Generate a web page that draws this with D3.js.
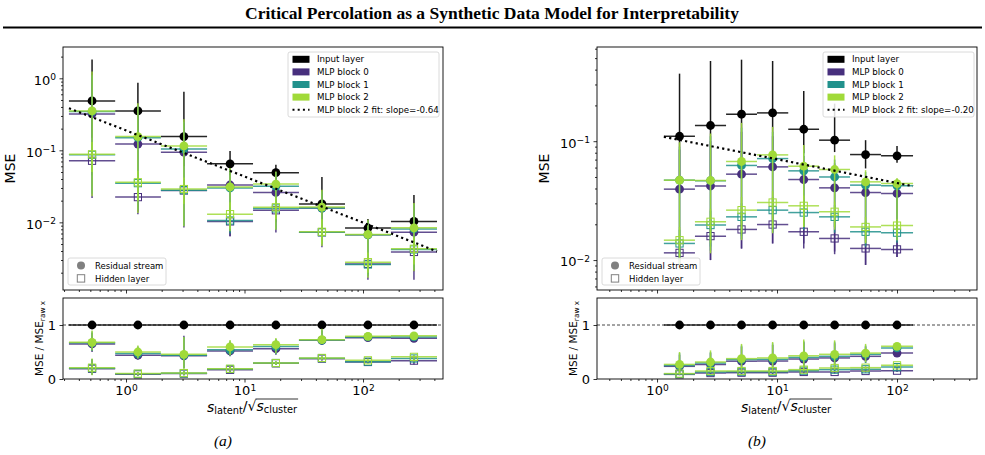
<!DOCTYPE html>
<html>
<head>
<meta charset="utf-8">
<script src="https://cdn.jsdelivr.net/npm/d3@7"></script>
<style>
  body { margin: 0; background: #fff; }
  text { font-family: "DejaVu Sans", sans-serif; }
</style>
</head>
<body>
<script>
// ---- data ----
const seriesNames = ["Input layer", "MLP block 0", "MLP block 1", "MLP block 2"];
const seriesColors = ["#000000", "#472f7d", "#21918c", "#a0da39"];

// bin edges and centres along s_latent / sqrt(s_cluster)
const edgesA = [0.33, 0.81, 1.97, 4.83, 11.8, 28.8, 70.5, 172, 421];
const centersA = [0.517, 1.26, 3.08, 7.55, 18.4, 45, 110, 269];
const edgesB = [1.14, 2.07, 3.76, 6.81, 12.4, 22.4, 40.6, 73.6, 136];
const centersB = [1.54, 2.79, 5.06, 9.19, 16.7, 30.2, 54.7, 100];

// [value, lower, upper] per bin -- panel (a), MSE
const inputA = [[0.485, 0.15, 1.83], [0.352, 0.12, 0.87], [0.155, 0.06, 0.65], [0.065, 0.045, 0.098],
                [0.049, 0.040, 0.063], [0.018, 0.008, 0.0425], [0.00835, 0.006, 0.0111], [0.0103, 0.004, 0.024]];
const resA0 = [[0.32, 0.0217, 1.0], [0.122, 0.013, 0.4], [0.094, 0.0085, 0.24], [0.033, 0.0064, 0.055],
               [0.026, 0.0072, 0.045], [0.0158, 0.0045, 0.026], [0.00675, 0.0016, 0.0105], [0.0073, 0.0016, 0.017]];
const resA1 = [[0.345, 0.025, 1.1], [0.150, 0.015, 0.42], [0.104, 0.009, 0.25], [0.030, 0.008, 0.055],
               [0.0316, 0.008, 0.05], [0.0158, 0.005, 0.027], [0.0067, 0.0018, 0.0105], [0.0081, 0.0022, 0.018]];
const resA2 = [[0.352, 0.023, 1.24], [0.155, 0.0135, 0.45], [0.115, 0.0088, 0.27], [0.031, 0.0075, 0.057],
               [0.034, 0.0079, 0.051], [0.0163, 0.0047, 0.0284], [0.0068, 0.0017, 0.0109], [0.0084, 0.0021, 0.0185]];
const hidA0 = [[0.0716, 0.045, 0.11], [0.0224, 0.014, 0.035], [0.0277, 0.018, 0.04], [0.0103, 0.0064, 0.016],
               [0.0147, 0.010, 0.020], [0.00727, 0.005, 0.0105], [0.00265, 0.0019, 0.0036], [0.00388, 0.0021, 0.0055]];
const hidA1 = [[0.0866, 0.05, 0.12], [0.035, 0.02, 0.05], [0.028, 0.018, 0.04], [0.0106, 0.007, 0.016],
               [0.0156, 0.011, 0.021], [0.0073, 0.005, 0.0105], [0.0026, 0.0019, 0.0036], [0.0042, 0.0025, 0.006]];
const hidA2 = [[0.088, 0.05, 0.13], [0.036, 0.02, 0.052], [0.029, 0.018, 0.042], [0.013, 0.008, 0.019],
               [0.0162, 0.011, 0.022], [0.0074, 0.005, 0.011], [0.0028, 0.002, 0.0038], [0.0043, 0.0026, 0.0062]];

// panel (b), MSE
const inputB = [[0.110, 0.04, 0.37], [0.1355, 0.05, 0.473], [0.1686, 0.06, 0.485], [0.173, 0.06, 0.473],
                [0.126, 0.079, 0.265], [0.102, 0.081, 0.207], [0.0772, 0.059, 0.102], [0.0753, 0.066, 0.091]];
const resB0 = [[0.0395, 0.009, 0.085], [0.042, 0.010, 0.1], [0.0528, 0.0125, 0.12], [0.0608, 0.0138, 0.11],
               [0.0476, 0.0138, 0.075], [0.0405, 0.0118, 0.065], [0.037, 0.0091, 0.05], [0.0363, 0.0106, 0.045]];
const resB1 = [[0.047, 0.009, 0.09], [0.0465, 0.012, 0.11], [0.0625, 0.015, 0.13], [0.0714, 0.017, 0.12],
               [0.0563, 0.019, 0.085], [0.050, 0.019, 0.07], [0.0427, 0.015, 0.055], [0.0421, 0.015, 0.048]];
const resB2 = [[0.047, 0.0083, 0.098], [0.0467, 0.0114, 0.116], [0.0675, 0.0147, 0.1426], [0.0767, 0.0168, 0.132],
               [0.0616, 0.019, 0.093], [0.0578, 0.019, 0.076], [0.0455, 0.0138, 0.057], [0.044, 0.0147, 0.049]];
const hidB0 = [[0.0115, 0.0085, 0.015], [0.0159, 0.010, 0.022], [0.0181, 0.0125, 0.025], [0.0199, 0.0138, 0.027],
               [0.0173, 0.0125, 0.024], [0.0152, 0.0112, 0.021], [0.01253, 0.0091, 0.016], [0.0123, 0.0106, 0.0145]];
const hidB1 = [[0.0138, 0.010, 0.018], [0.0197, 0.013, 0.026], [0.0231, 0.016, 0.03], [0.0263, 0.018, 0.034],
               [0.0251, 0.018, 0.032], [0.0231, 0.017, 0.029], [0.0173, 0.013, 0.021], [0.017, 0.014, 0.02]];
const hidB2 = [[0.0147, 0.010, 0.019], [0.021, 0.014, 0.027], [0.0263, 0.017, 0.034], [0.0305, 0.019, 0.038],
               [0.0286, 0.019, 0.035], [0.0255, 0.018, 0.031], [0.019, 0.014, 0.023], [0.0195, 0.016, 0.022]];

// ratio MSE / MSE_raw x -- panel (a)
const rresA0 = [[0.65, 0.5, 0.85], [0.44, 0.36, 0.58], [0.43, 0.2, 0.8], [0.52, 0.42, 0.68],
                [0.56, 0.45, 0.72], [0.716, 0.63, 0.9], [0.765, 0.73, 0.8], [0.753, 0.72, 0.79]];
const rresA1 = [[0.67, 0.52, 0.88], [0.47, 0.37, 0.6], [0.44, 0.2, 0.78], [0.54, 0.43, 0.7],
                [0.6, 0.46, 0.74], [0.72, 0.64, 0.91], [0.78, 0.75, 0.81], [0.78, 0.75, 0.81]];
const rresA2 = [[0.68, 0.53, 0.9], [0.5, 0.38, 0.62], [0.457, 0.19, 0.78], [0.593, 0.44, 0.72],
                [0.636, 0.47, 0.76], [0.728, 0.65, 0.93], [0.79, 0.76, 0.82], [0.8, 0.77, 0.83]];
const rhidA0 = [[0.19, 0.08, 0.36], [0.086, 0.06, 0.12], [0.1, 0.07, 0.14], [0.17, 0.13, 0.22],
                [0.29, 0.26, 0.32], [0.377, 0.34, 0.41], [0.315, 0.29, 0.34], [0.34, 0.27, 0.42]];
const rhidA1 = [[0.2, 0.08, 0.37], [0.095, 0.065, 0.13], [0.105, 0.07, 0.15], [0.185, 0.14, 0.23],
                [0.296, 0.26, 0.33], [0.385, 0.35, 0.42], [0.32, 0.29, 0.35], [0.38, 0.3, 0.44]];
const rhidA2 = [[0.21, 0.07, 0.38], [0.1, 0.07, 0.13], [0.11, 0.07, 0.15], [0.19, 0.14, 0.24],
                [0.296, 0.26, 0.33], [0.39, 0.35, 0.43], [0.346, 0.31, 0.38], [0.41, 0.32, 0.45]];

// ratio -- panel (b)
const rresB0 = [[0.235, 0.1, 0.45], [0.27, 0.15, 0.48], [0.33, 0.15, 0.6], [0.333, 0.15, 0.63],
                [0.37, 0.19, 0.68], [0.39, 0.22, 0.66], [0.42, 0.3, 0.6], [0.48, 0.44, 0.52]];
const rresB1 = [[0.25, 0.1, 0.48], [0.296, 0.16, 0.5], [0.36, 0.16, 0.62], [0.364, 0.16, 0.66],
                [0.4, 0.19, 0.7], [0.42, 0.22, 0.69], [0.457, 0.3, 0.62], [0.575, 0.54, 0.61]];
const rresB2 = [[0.27, 0.1, 0.5], [0.315, 0.16, 0.53], [0.377, 0.16, 0.65], [0.39, 0.16, 0.685],
                [0.43, 0.19, 0.73], [0.457, 0.22, 0.716], [0.48, 0.31, 0.65], [0.605, 0.57, 0.64]];
const rhidB0 = [[0.086, 0.07, 0.1], [0.11, 0.09, 0.13], [0.117, 0.09, 0.14], [0.117, 0.09, 0.14],
                [0.13, 0.1, 0.17], [0.13, 0.1, 0.17], [0.148, 0.12, 0.18], [0.154, 0.13, 0.2]];
const rhidB1 = [[0.093, 0.075, 0.11], [0.13, 0.1, 0.15], [0.135, 0.1, 0.16], [0.135, 0.1, 0.16],
                [0.154, 0.12, 0.19], [0.173, 0.14, 0.2], [0.18, 0.15, 0.21], [0.22, 0.19, 0.25]];
const rhidB2 = [[0.1, 0.08, 0.12], [0.148, 0.12, 0.17], [0.148, 0.12, 0.17], [0.148, 0.12, 0.17],
                [0.173, 0.14, 0.2], [0.204, 0.17, 0.23], [0.21, 0.18, 0.24], [0.253, 0.22, 0.28]];

// power-law fits of MLP block 2: slope and value at x = 1
const fitSlopes = [-0.64, -0.20];
const fitAtOne = [0.189, 0.1117];

const xDomains = [[0.294, 473], [0.316, 464]];
const yDomains = [[0.00115, 2.72], [0.0056, 0.62]];
const ratioDomain = [0, 1.5];
const panelLabels = ["(a)", "(b)"];

// ---- drawing ----
const svg = d3.select("body").append("svg")
    .attr("width", 985)
    .attr("height", 455);

// paper header
svg.append("text")
    .attr("x", 492).attr("y", 19)
    .attr("text-anchor", "middle")
    .style("font-family", "'Liberation Serif', serif")
    .style("font-weight", "bold")
    .style("font-size", "17.5px")
    .text("Critical Percolation as a Synthetic Data Model for Interpretability");
svg.append("line")
    .attr("x1", 3).attr("x2", 982).attr("y1", 27.5).attr("y2", 27.5)
    .attr("stroke", "#000").attr("stroke-width", 1.8);

const panels = [
    { left: 63, right: 443, edges: edgesA, centers: centersA, input: inputA,
      res: [resA0, resA1, resA2], hid: [hidA0, hidA1, hidA2],
      rres: [rresA0, rresA1, rresA2], rhid: [rhidA0, rhidA1, rhidA2] },
    { left: 597, right: 977, edges: edgesB, centers: centersB, input: inputB,
      res: [resB0, resB1, resB2], hid: [hidB0, hidB1, hidB2],
      rres: [rresB0, rresB1, rresB2], rhid: [rhidB0, rhidB1, rhidB2] }
];
const topY = 47, midY = 290, bTop = 298, bBottom = 379;

function logTickValues(domain) {
    const out = [];
    const e0 = Math.floor(Math.log10(domain[0])), e1 = Math.ceil(Math.log10(domain[1]));
    for (let e = e0; e <= e1; e++) {
        for (let m = 1; m < 10; m++) {
            const v = m * Math.pow(10, e);
            if (v >= domain[0] * 0.999 && v <= domain[1] * 1.001) out.push({ v: v, major: m === 1, e: e });
        }
    }
    return out;
}

function powLabel(sel, e) {
    sel.text(null);
    sel.append("tspan").text("10");
    sel.append("tspan").attr("dy", "-0.5em").attr("font-size", "0.7em")
        .text(e < 0 ? "\u2212" + (-e) : String(e));
}

function styleAxis(g) {
    g.select(".domain").remove();
    g.selectAll(".tick line").attr("stroke", "#000").attr("stroke-width", 0.8);
    g.selectAll(".tick text").attr("fill", "#000").style("font-size", "13px")
        .style("font-family", "'DejaVu Sans', sans-serif");
}

function logAxis(g, scale, makeAxis, domain, withLabels) {
    const ticks = logTickValues(domain);
    g.append("g").call(makeAxis(scale).tickValues(ticks.filter(t => !t.major).map(t => t.v))
        .tickSize(2).tickFormat("")).call(styleAxis);
    const majors = ticks.filter(t => t.major);
    const ga = g.append("g").call(makeAxis(scale).tickValues(majors.map(t => t.v))
        .tickSize(3.5).tickPadding(3.5).tickFormat("")).call(styleAxis);
    if (withLabels) {
        ga.selectAll(".tick text").each(function(d) {
            powLabel(d3.select(this), Math.round(Math.log10(d)));
        });
    }
    return ga;
}

function drawBars(g, x, y, p, pts, color, marker) {
    pts.forEach((d, i) => {
        const cx = x(p.centers[i]);
        g.append("line")
            .attr("x1", cx).attr("x2", cx).attr("y1", y(d[1])).attr("y2", y(d[2]))
            .attr("stroke", color).attr("stroke-width", 1.5).attr("stroke-opacity", 0.9);
        g.append("line")
            .attr("x1", x(p.edges[i])).attr("x2", x(p.edges[i + 1]))
            .attr("y1", y(d[0])).attr("y2", y(d[0]))
            .attr("stroke", color).attr("stroke-width", 1.5).attr("stroke-opacity", 0.85);
        if (marker === "circle") {
            g.append("circle").attr("cx", cx).attr("cy", y(d[0])).attr("r", 4.4).attr("fill", color);
        } else {
            g.append("rect").attr("x", cx - 3.6).attr("y", y(d[0]) - 3.6)
                .attr("width", 7.2).attr("height", 7.2)
                .attr("fill", "none").attr("stroke", color).attr("stroke-width", 1);
        }
    });
}

panels.forEach((p, k) => {
    const x = d3.scaleLog().domain(xDomains[k]).range([p.left, p.right]);
    const y = d3.scaleLog().domain(yDomains[k]).range([midY, topY]);
    const yr = d3.scaleLinear().domain(ratioDomain).range([bBottom, bTop]);
    const w = p.right - p.left;

    const defs = svg.append("defs");
    defs.append("clipPath").attr("id", "clipT" + k).append("rect")
        .attr("x", p.left).attr("y", topY).attr("width", w).attr("height", midY - topY);
    defs.append("clipPath").attr("id", "clipB" + k).append("rect")
        .attr("x", p.left).attr("y", bTop).attr("width", w).attr("height", bBottom - bTop);

    // ---- top: MSE ----
    const gt = svg.append("g").attr("clip-path", "url(#clipT" + k + ")");
    drawBars(gt, x, y, p, p.input, seriesColors[0], "circle");
    for (let s = 0; s < 3; s++) {
        drawBars(gt, x, y, p, p.res[s], seriesColors[s + 1], "circle");
        drawBars(gt, x, y, p, p.hid[s], seriesColors[s + 1], "square");
    }
    // fit line of block 2
    const x0 = p.edges[0], x1 = p.edges[p.edges.length - 1];
    gt.append("line")
        .attr("x1", x(x0)).attr("y1", y(fitAtOne[k] * Math.pow(x0, fitSlopes[k])))
        .attr("x2", x(x1)).attr("y2", y(fitAtOne[k] * Math.pow(x1, fitSlopes[k])))
        .attr("stroke", "#000").attr("stroke-width", 2.2)
        .attr("stroke-dasharray", "2.2,3.2");

    // axes of the top plot
    logAxis(svg.append("g").attr("transform", `translate(0,${midY})`), x, d3.axisBottom, xDomains[k], false);
    const gy = logAxis(svg.append("g").attr("transform", `translate(${p.left},0)`), y, d3.axisLeft, yDomains[k], true);
    gy.selectAll(".tick text").attr("dy", "0.45em");
    svg.append("rect").attr("x", p.left).attr("y", topY).attr("width", w).attr("height", midY - topY)
        .attr("fill", "none").attr("stroke", "#000").attr("stroke-width", 0.9);
    svg.append("text")
        .attr("transform", `translate(${p.left - 48},${(topY + midY) / 2}) rotate(-90)`)
        .attr("text-anchor", "middle").style("font-size", "14px").text("MSE");

    // legend of layers
    const lx = k === 0 ? 288 : 823;
    const lg = svg.append("g").attr("transform", `translate(${lx},52)`);
    lg.append("rect").attr("width", 151).attr("height", 65).attr("rx", 2)
        .attr("fill", "#fff").attr("fill-opacity", 0.85).attr("stroke", "#d0d0d0").attr("stroke-width", 0.8);
    seriesNames.forEach((name, i) => {
        const ry = 7.3 + i * 12.6;
        lg.append("rect").attr("x", 4.5).attr("y", ry - 3.5).attr("width", 17).attr("height", 7)
            .attr("fill", seriesColors[i]);
        lg.append("text").attr("x", 29).attr("y", ry + 3).style("font-size", "8.7px").text(name);
    });
    const fy = 7.3 + 4 * 12.6;
    lg.append("line").attr("x1", 4.5).attr("x2", 21.5).attr("y1", fy).attr("y2", fy)
        .attr("stroke", "#000").attr("stroke-width", 2).attr("stroke-dasharray", "2,3.2");
    lg.append("text").attr("x", 29).attr("y", fy + 3).style("font-size", "8.7px")
        .text("MLP block 2 fit: slope=" + fitSlopes[k].toFixed(2));

    // legend of markers
    const mx = p.left + 5;
    const mg = svg.append("g").attr("transform", `translate(${mx},258)`);
    mg.append("rect").attr("width", 98).attr("height", 27).attr("rx", 2)
        .attr("fill", "#fff").attr("fill-opacity", 0.85).attr("stroke", "#d0d0d0").attr("stroke-width", 0.8);
    mg.append("circle").attr("cx", 13).attr("cy", 7.5).attr("r", 4).attr("fill", "#808080");
    mg.append("rect").attr("x", 9.3).attr("y", 16.7).attr("width", 7.4).attr("height", 7.4)
        .attr("fill", "none").attr("stroke", "#808080").attr("stroke-width", 1);
    mg.append("text").attr("x", 27).attr("y", 10.5).style("font-size", "8.5px").text("Residual stream");
    mg.append("text").attr("x", 27).attr("y", 23.5).style("font-size", "8.5px").text("Hidden layer");

    // ---- bottom: ratio ----
    const gb = svg.append("g").attr("clip-path", "url(#clipB" + k + ")");
    gb.append("line").attr("x1", p.left).attr("x2", p.right).attr("y1", yr(1)).attr("y2", yr(1))
        .attr("stroke", "#333").attr("stroke-width", 0.9).attr("stroke-dasharray", "3,2");
    const ones = p.centers.map(() => [1, 1, 1]);
    drawBars(gb, x, yr, p, ones, seriesColors[0], "circle");
    for (let s = 0; s < 3; s++) {
        drawBars(gb, x, yr, p, p.rres[s], seriesColors[s + 1], "circle");
        drawBars(gb, x, yr, p, p.rhid[s], seriesColors[s + 1], "square");
    }

    logAxis(svg.append("g").attr("transform", `translate(0,${bBottom})`), x, d3.axisBottom, xDomains[k], true);
    svg.append("g").attr("transform", `translate(${p.left},0)`)
        .call(d3.axisLeft(yr).tickValues([0, 1]).tickSize(3.5).tickPadding(3.5).tickFormat(d3.format("d")))
        .call(styleAxis);
    svg.append("rect").attr("x", p.left).attr("y", bTop).attr("width", w).attr("height", bBottom - bTop)
        .attr("fill", "none").attr("stroke", "#000").attr("stroke-width", 0.9);

    const rl = svg.append("text")
        .attr("transform", `translate(${p.left - 20},${(bTop + bBottom) / 2}) rotate(-90)`)
        .attr("text-anchor", "middle").style("font-size", "10.5px");
    rl.append("tspan").text("MSE / MSE");
    rl.append("tspan").attr("dy", "0.3em").attr("font-size", "0.7em").text("raw x");

    // x label: s_latent / sqrt(s_cluster)
    const cx = (p.left + p.right) / 2 - 1;
    const xl = svg.append("text").attr("x", cx).attr("y", 412)
        .attr("text-anchor", "middle").style("font-size", "14px");
    xl.append("tspan").style("font-style", "italic").text("s");
    xl.append("tspan").attr("dy", "0.22em").attr("font-size", "0.7em").text("latent");
    xl.append("tspan").attr("dy", "-0.22em").text("/\u221A");
    xl.append("tspan").style("font-style", "italic").text("s");
    xl.append("tspan").attr("dy", "0.22em").attr("font-size", "0.7em").text("cluster");
    const node = xl.node();
    const n = node.getNumberOfChars();
    const sx = node.getStartPositionOfChar(n - 8).x;
    const ex = node.getEndPositionOfChar(n - 1).x;
    svg.append("line").attr("x1", sx - 1).attr("x2", ex + 1).attr("y1", 399).attr("y2", 399)
        .attr("stroke", "#000").attr("stroke-width", 0.8);

    svg.append("text").attr("x", cx - 29).attr("y", 446)
        .attr("text-anchor", "middle")
        .style("font-family", "'Liberation Serif', serif").style("font-style", "italic")
        .style("font-size", "15.5px").text(panelLabels[k]);
});
</script>
</body>
</html>
